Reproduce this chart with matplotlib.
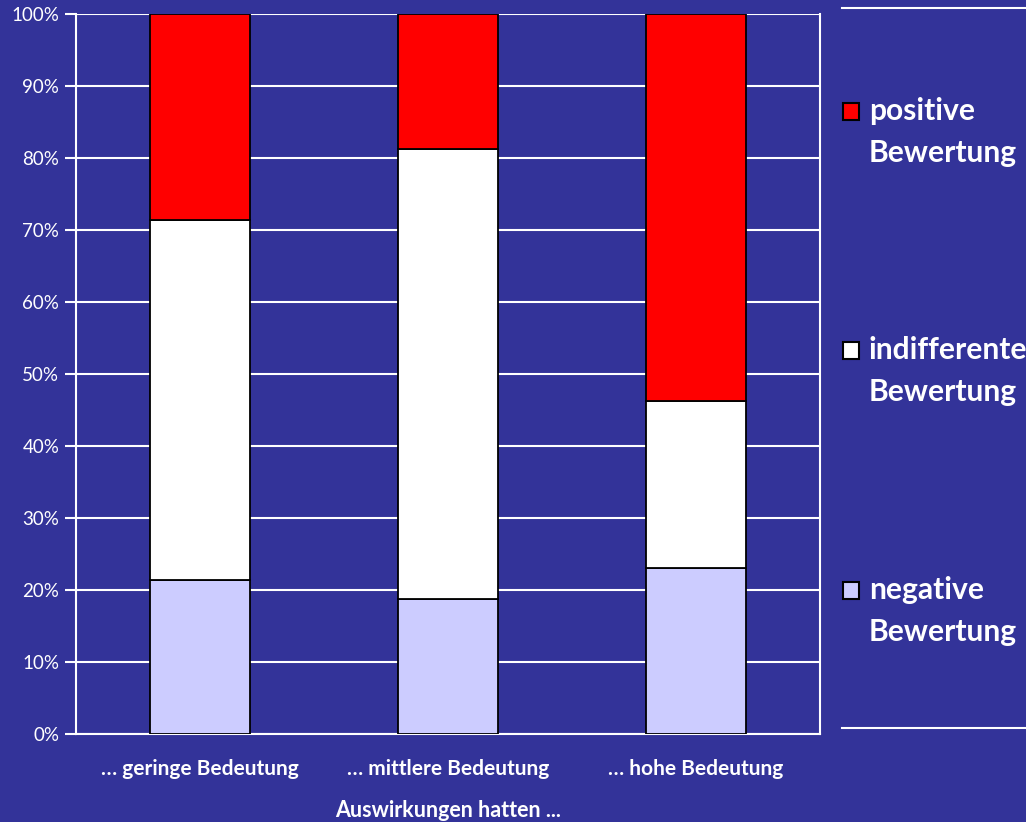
import matplotlib
matplotlib.use("Agg")
import matplotlib.pyplot as plt
from matplotlib.patches import Rectangle
from matplotlib.lines import Line2D
import numpy as np

plt.rcParams['font.family'] = ['Lato', 'DejaVu Sans']

categories = ["… geringe Bedeutung", "… mittlere Bedeutung", "… hohe Bedeutung"]
negative = [21.4, 18.7, 23.1]
indifferent = [50.0, 62.6, 23.1]
positive = [28.6, 18.7, 53.8]
series_names = ["positive\nBewertung", "indifferente\nBewertung", "negative\nBewertung"]
y_ticks = [0, 10, 20, 30, 40, 50, 60, 70, 80, 90, 100]
x_title = "Auswirkungen hatten ..."

bg = "#333399"
c_neg = "#CCCCFF"
c_ind = "#FFFFFF"
c_pos = "#FF0000"

fig = plt.figure(figsize=(10.26, 8.22), dpi=100, facecolor=bg)
ax = fig.add_axes([76 / 1026, 1 - 734 / 822, 744 / 1026, 720 / 822])
ax.set_facecolor(bg)

x = np.arange(len(categories))
neg = np.array(negative)
ind = np.array(indifferent)
pos = np.array(positive)
kw = dict(width=0.4, edgecolor="black", linewidth=1.3, zorder=3)
ax.bar(x, neg, color=c_neg, **kw)
ax.bar(x, ind, bottom=neg, color=c_ind, **kw)
ax.bar(x, pos, bottom=neg + ind, color=c_pos, **kw)

ax.set_xlim(-0.5, 2.5)
ax.set_ylim(0, 100)
ax.set_yticks(y_ticks)
ax.set_yticklabels([f"{v}%" for v in y_ticks])
ax.yaxis.grid(True, color="white", linewidth=1.5, zorder=1)
ax.set_axisbelow(True)
ax.set_xticks(x)
ax.set_xticklabels(categories, fontweight="bold", fontsize=15, color="white")
ax.tick_params(axis="x", length=0, pad=18)
ax.tick_params(axis="y", colors="white", labelsize=13.5, length=8, width=1.5, pad=4)
for s in ["left", "right", "bottom"]:
    ax.spines[s].set_color("white")
    ax.spines[s].set_linewidth(1.5)
ax.spines["top"].set_visible(False)
ax.set_xlabel(x_title, color="white", fontweight="bold", fontsize=15.5, labelpad=15)

# legend drawn in figure pixels
W, H = 1026, 822
def fx(px):
    return px / W
def fy(py):
    return 1 - py / H

for ly in (8, 728):
    fig.add_artist(Line2D([fx(842), fx(1026)], [fy(ly), fy(ly)], color="white",
                          linewidth=1.5, transform=fig.transFigure))

legend_colors = [c_pos, c_ind, c_neg]
legend_rows = [111, 350, 590]
for name, col, yc in zip(series_names, legend_colors, legend_rows):
    fig.add_artist(Rectangle((fx(843), fy(yc + 9)), 16 / W, 17 / H, facecolor=col,
                             edgecolor="black", linewidth=1.5,
                             transform=fig.transFigure))
    fig.text(fx(869), fy(yc - 14), name, color="white", fontweight="bold",
             fontsize=21.6, va="top", ha="left", linespacing=1.6)

fig.savefig("out.png", dpi=100, facecolor=bg)
